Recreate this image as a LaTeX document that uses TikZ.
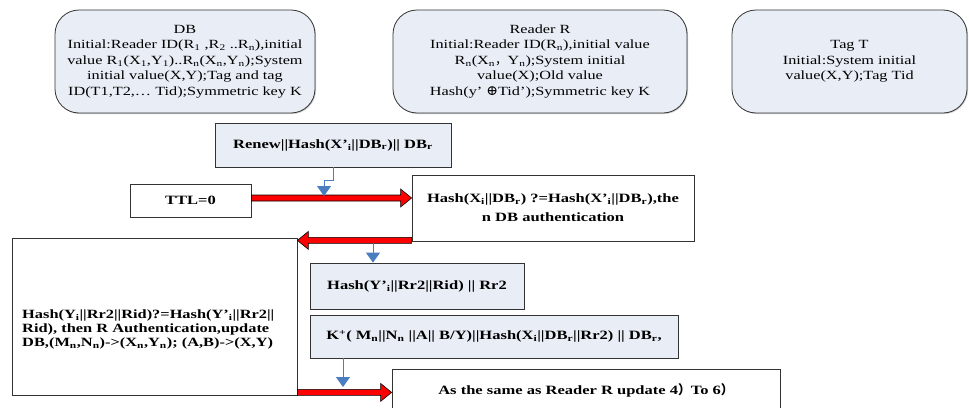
\documentclass[tikz,border=0pt]{standalone}
\usepackage{fontspec}
\setmainfont{Liberation Serif}[FakeStretch=1.3]
\newfontfamily\cjk{Noto Sans CJK SC}
\newfontfamily\symf{DejaVu Serif}
\usetikzlibrary{arrows.meta,calc,shadows}
\definecolor{boxfill}{RGB}{233,238,246}
\definecolor{flowblue}{RGB}{74,126,193}
\newcommand\sub[1]{\textsubscript{#1}}
\tikzset{
  initbox/.style={draw=black!80, fill=boxfill, rounded corners=24pt, align=center,
    inner sep=0pt, line width=0.8pt, font=\fontsize{12.5}{15.5}\selectfont,
    drop shadow={shadow xshift=1pt, shadow yshift=-1pt, opacity=0.4}},
  msgbox/.style={draw=black!80, fill=boxfill, align=center, inner sep=0pt,
    line width=0.8pt, font=\bfseries\fontsize{12.7}{19}\selectfont},
  plainbox/.style={msgbox, fill=white},
  bluearrow/.style={draw=flowblue, line width=0.9pt,
    -{Triangle[width=14pt,length=10pt,fill=flowblue]}},
  redarrow/.style={fill=red, draw=black, line width=0.6pt, line join=miter},
}
% thick horizontal red arrow between two points
\newcommand\fatarrow[2]{%
  \filldraw[redarrow] let \p1=(#1), \p2=(#2), \n1={ifthenelse(\x2>\x1,11,-11)} in
    (\x1,{\y1+3pt}) -- ({\x2-(\n1)},{\y1+3pt}) -- ({\x2-(\n1)},{\y1+9pt}) --
    (\x2,\y1) -- ({\x2-(\n1)},{\y1-9pt}) -- ({\x2-(\n1)},{\y1-3pt}) --
    (\x1,{\y1-3pt}) -- cycle;}
\begin{document}
\begin{tikzpicture}[x=1pt,y=-1pt]
\useasboundingbox (0,0) rectangle (969,407);

% initial states of the three parties
\node[initbox, minimum width=260pt, minimum height=103pt] (db) at (185,61.5)
  {DB\\
   Initial:Reader ID(R\sub{1} ,R\sub{2} ..R\sub{n}),initial\\
   value R\sub{1}(X\sub{1},Y\sub{1})..R\sub{n}(X\sub{n},Y\sub{n});System\\
   initial value(X,Y);Tag and tag\\
   ID(T1,T2,… Tid);Symmetric key K};
\node[initbox, minimum width=294pt, minimum height=103pt] (rr) at (540,61.5)
  {Reader R\\
   Initial:Reader ID(R\sub{n}),initial value\\
   R\sub{n}(X\sub{n}{\cjk ，}Y\sub{n});System initial\\
   value(X);Old value\\
   Hash(y’ {\symf\fontsize{14}{15.5}\selectfont ⊕}Tid’);Symmetric key K};
\node[initbox, minimum width=235pt, minimum height=103pt] (tt) at (849.5,61.5)
  {Tag T\\
   Initial:System initial\\
   value(X,Y);Tag Tid};

% message flow
\node[msgbox, minimum width=236pt, minimum height=44pt] (renew) at (333,145)
  {Renew||Hash(X’\sub{i}||DB\sub{r})|| DB\sub{r}};
\node[plainbox, minimum width=121pt, minimum height=33pt] (ttl) at (190.5,200.5)
  {TTL=0};
\node[plainbox, minimum width=282pt, minimum height=66pt] (hx) at (553,208)
  {Hash(X\sub{i}||DB\sub{r}) ?=Hash(X’\sub{i}||DB\sub{r}),the\\
   n DB authentication};
\node[plainbox, minimum width=285pt, minimum height=157pt] (big) at (154.5,316.5) {};
\node[anchor=west, align=left, inner sep=0pt,
      font=\bfseries\fontsize{12.6}{14}\selectfont] (bigtxt) at (22,329.5)
  {Hash(Y\sub{i}||Rr2||Rid)?=Hash(Y’\sub{i}||Rr2||\\
   Rid), then R Authentication,update\\
   DB,(M\sub{n},N\sub{n})->(X\sub{n},Y\sub{n}); (A,B)->(X,Y)};
\node[msgbox, minimum width=214pt, minimum height=46pt] (hy) at (417,286)
  {Hash(Y’\sub{i}||Rr2||Rid) || Rr2};
\node[msgbox, minimum width=368pt, minimum height=43pt] (kp) at (494,336.5)
  {K\textsuperscript{+}( M\sub{n}||N\sub{n} ||A|| B/Y)||Hash(X\sub{i}||DB\sub{r}||Rr2) || DB\sub{r},};
\node[plainbox, minimum width=388pt, minimum height=42pt] (last) at (586,390)
  {As the same as Reader R update 4{\cjk ）}To 6{\cjk ）}};

% red transfer arrows
\coordinate (a1s) at ($(ttl.east)+(0,-2.5)$);
\coordinate (a1e) at (hx.west |- a1s);
\fatarrow{a1s}{a1e}
\coordinate (a2s) at ($(hx.south west)+(0,-1)$);
\coordinate (a2e) at (big.east |- a2s);
\fatarrow{a2s}{a2e}
\coordinate (a3s) at ($(big.south east)+(0,-3)$);
\coordinate (a3e) at (last.west |- a3s);
\fatarrow{a3s}{a3e}

% blue feeds into the transfers
\coordinate (b1e) at (324,196);
\draw[bluearrow] (renew.south) -- ++(0,13) -| (b1e);
\coordinate (b2s) at (373,243);
\draw[bluearrow] (b2s) -- (b2s |- hy.north);
\coordinate (b3e) at (343,387);
\draw[bluearrow] (b3e |- kp.south) -- (b3e);
\end{tikzpicture}
\end{document}
